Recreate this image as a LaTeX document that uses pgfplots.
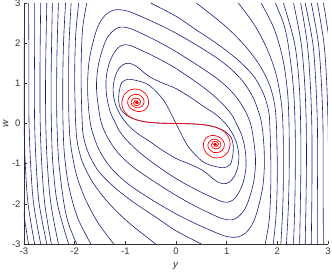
\documentclass[border=0pt]{standalone}
\usepackage{fontspec}
\setmainfont{Liberation Sans}
\usepackage{pgfplots}
\usepackage{pgfplotstable}
\pgfplotsset{compat=1.18}
\definecolor{cblue}{RGB}{22,32,122}
\definecolor{axgray}{RGB}{50,50,50}
% ---- open contours: left branches (right branches are the point reflection)
\pgfplotstableread{
y w
-1.76 3
-1.84 2.4
-1.87 1.6
-1.87 0.8
-1.85 0
-1.83 -0.3
-1.74 -0.7
-1.55 -1.15
-1.25 -1.55
-0.85 -1.95
-0.4 -2.33
0 -2.67
0.5 -3.0
}\Ltw
\pgfplotstableread{
y w
-1.92 3
-1.98 2.2
-2.0 1.2
-1.99 0.4
-1.98 0
-1.95 -0.45
-1.85 -0.95
-1.65 -1.45
-1.35 -1.95
-0.95 -2.45
-0.4 -3.0
}\Lel
\pgfplotstableread{
y w
-2.07 3
-2.11 2
-2.12 1
-2.11 0
-2.07 -0.6
-1.97 -1.25
-1.8 -1.85
-1.55 -2.45
-1.23 -3.0
}\Lte
\pgfplotstableread{
y w
-2.18 3
-2.22 2
-2.235 1
-2.23 0
-2.2 -0.8
-2.11 -1.6
-1.94 -2.35
-1.68 -3.0
}\Lni
\pgfplotstableread{
y w
-2.32 3
-2.345 2
-2.355 1
-2.35 0
-2.31 -1
-2.21 -2
-2.12 -2.5
-1.96 -3
}\Lei
\pgfplotstableread{
y w
-2.44 3
-2.455 2
-2.465 1
-2.46 0
-2.43 -1
-2.34 -2
-2.12 -3
}\Lse
\pgfplotstableread{
y w
-2.55 3
-2.565 2
-2.575 1
-2.57 0
-2.54 -1
-2.47 -2
-2.32 -3
}\Lsi
\pgfplotstableread{
y w
-2.67 3
-2.68 2
-2.685 1
-2.68 0
-2.65 -1
-2.59 -2
-2.46 -3
}\Lfi
\pgfplotstableread{
y w
-2.79 3
-2.79 2
-2.795 1
-2.79 0
-2.76 -1
-2.7 -2
-2.55 -3
}\Lfo
\pgfplotstableread{
y w
-2.91 3
-2.905 2
-2.905 1
-2.9 0
-2.87 -1
-2.81 -2
-2.67 -3
}\Lth
\pgfplotstableread{
y w
-3.02 3
-3.01 2
-3.01 1
-3.0 0
-2.975 -1
-2.92 -2
-2.79 -3
}\Ltwo
\pgfplotstableread{
y w
-3.13 3
-3.12 2
-3.115 1
-3.1 0
-3.08 -1
-3.03 -2
-2.91 -3
}\Lone
% ---- closed contours, full loops
\pgfplotstableread{
y w
0 2.25
0.5 1.88
0.95 1.5
1.3 1.08
1.52 0.65
1.64 0.25
1.69 0
1.73 -0.45
1.745 -1.0
1.71 -1.6
1.6 -2.2
1.5 -2.52
1.36 -2.74
1.2 -2.83
1.03 -2.82
0.85 -2.75
0.45 -2.53
0 -2.25
-0.5 -1.88
-0.95 -1.5
-1.3 -1.08
-1.52 -0.65
-1.64 -0.25
-1.69 0
-1.73 0.45
-1.745 1.0
-1.71 1.6
-1.6 2.2
-1.5 2.52
-1.36 2.74
-1.2 2.83
-1.03 2.82
-0.85 2.75
-0.45 2.53
0 2.25
0.5 1.88
}\Kfi
\pgfplotstableread{
y w
0 1.79
0.45 1.43
0.85 1.08
1.15 0.72
1.35 0.35
1.47 0
1.53 -0.4
1.57 -0.9
1.54 -1.4
1.45 -1.85
1.35 -2.15
1.22 -2.33
1.1 -2.4
0.95 -2.38
0.78 -2.3
0.4 -2.07
0 -1.79
-0.45 -1.43
-0.85 -1.08
-1.15 -0.72
-1.35 -0.35
-1.47 0
-1.53 0.4
-1.57 0.9
-1.54 1.4
-1.45 1.85
-1.35 2.15
-1.22 2.33
-1.1 2.4
-0.95 2.38
-0.78 2.3
-0.4 2.07
0 1.79
0.45 1.43
}\Kfo
\pgfplotstableread{
y w
0 1.37
0.4 1.03
0.72 0.72
0.97 0.42
1.12 0.18
1.19 0
1.3 -0.3
1.37 -0.7
1.38 -1.1
1.33 -1.45
1.24 -1.72
1.13 -1.9
1.02 -1.96
0.9 -1.94
0.75 -1.86
0.4 -1.65
0 -1.37
-0.4 -1.03
-0.72 -0.72
-0.97 -0.42
-1.12 -0.18
-1.19 0
-1.3 0.3
-1.37 0.7
-1.38 1.1
-1.33 1.45
-1.24 1.72
-1.13 1.9
-1.02 1.96
-0.9 1.94
-0.75 1.86
-0.4 1.65
0 1.37
0.4 1.03
}\Kth
\pgfplotstableread{
y w
0 0.87
0.3 0.64
0.55 0.42
0.78 0.23
0.96 0.02
1.1 -0.22
1.2 -0.5
1.24 -0.8
1.22 -1.08
1.15 -1.32
1.05 -1.46
0.93 -1.5
0.78 -1.42
0.53 -1.17
0.25 -1.0
0 -0.87
-0.3 -0.64
-0.55 -0.42
-0.78 -0.23
-0.96 -0.02
-1.1 0.22
-1.2 0.5
-1.24 0.8
-1.22 1.08
-1.15 1.32
-1.05 1.46
-0.93 1.5
-0.78 1.42
-0.53 1.17
-0.25 1.0
0 0.87
0.3 0.64
}\Ktw
% figure-eight through the origin
\pgfplotstableread{
y w
-0.4 0.015
-0.2 0.005
0 0
0.2 -0.005
0.4 -0.015
0.6 -0.04
0.8 -0.1
0.97 -0.2
1.09 -0.35
1.13 -0.55
1.12 -0.8
1.07 -1.02
0.95 -1.1
0.78 -1.07
0.53 -0.95
0.24 -0.57
0 0
-0.24 0.57
-0.53 0.95
-0.78 1.07
-0.95 1.1
-1.07 1.02
-1.12 0.8
-1.13 0.55
-1.09 0.35
-0.97 0.2
-0.8 0.1
-0.6 0.04
-0.4 0.015
-0.2 0.005
}\Kone
% ---- red trajectory, right half (left half is the reflection)
\pgfplotstableread{
y w
0 0
0.2 -0.005
0.4 -0.015
0.6 -0.04
0.8 -0.1
0.95 -0.2
1.04 -0.35
1.07 -0.52
1.02 -0.72
0.9 -0.84
0.74 -0.85
0.6 -0.74
0.54 -0.57
0.56 -0.42
0.64 -0.32
0.76 -0.3
0.88 -0.36
0.95 -0.48
0.94 -0.62
0.86 -0.71
0.74 -0.72
0.65 -0.63
0.63 -0.52
0.68 -0.42
0.78 -0.39
0.87 -0.46
0.88 -0.56
0.82 -0.63
0.73 -0.61
0.7 -0.53
0.73 -0.46
0.8 -0.45
0.84 -0.51
0.81 -0.57
0.76 -0.56
0.75 -0.51
0.79 -0.5
0.8 -0.53
0.77 -0.53
}\Rtraj
\pgfplotstableread{
y w
0.77 -0.52
}\Rdot
\begin{document}
\begin{tikzpicture}
\begin{axis}[
  scale only axis, width=304pt, height=241pt,
  xmin=-3, xmax=3, ymin=-3, ymax=3,
  axis x line*=bottom, axis y line*=left,
  axis line style={axgray, line width=0.5pt},
  tick align=inside, major tick length=3pt,
  tick style={axgray, line width=0.5pt},
  xtick={-3,-2,-1,0,1,2,3}, ytick={-3,-2,-1,0,1,2,3},
  tick label style={font=\fontsize{9.5}{11}\selectfont, text=axgray},
  /pgf/number format/assume math mode=true,
  xlabel={\textit{y}}, ylabel={\textit{w}},
  label style={font=\fontsize{10}{12}\selectfont, text=axgray},
  xlabel style={at={(axis description cs:0.5,-0.09)}, anchor=center},
  ylabel style={at={(axis description cs:-0.06,0.5)}, anchor=center},
  clip=true,
  bl/.style={cblue, line width=0.6pt, smooth, tension=0.55},
  rd/.style={red, line width=0.7pt, smooth, tension=0.55},
]
\addplot[bl] table[x=y,y=w] {\Lone};
\addplot[bl] table[x expr=-\thisrow{y}, y expr=-\thisrow{w}] {\Lone};
\addplot[bl] table[x=y,y=w] {\Ltwo};
\addplot[bl] table[x expr=-\thisrow{y}, y expr=-\thisrow{w}] {\Ltwo};
\addplot[bl] table[x=y,y=w] {\Lth};
\addplot[bl] table[x expr=-\thisrow{y}, y expr=-\thisrow{w}] {\Lth};
\addplot[bl] table[x=y,y=w] {\Lfo};
\addplot[bl] table[x expr=-\thisrow{y}, y expr=-\thisrow{w}] {\Lfo};
\addplot[bl] table[x=y,y=w] {\Lfi};
\addplot[bl] table[x expr=-\thisrow{y}, y expr=-\thisrow{w}] {\Lfi};
\addplot[bl] table[x=y,y=w] {\Lsi};
\addplot[bl] table[x expr=-\thisrow{y}, y expr=-\thisrow{w}] {\Lsi};
\addplot[bl] table[x=y,y=w] {\Lse};
\addplot[bl] table[x expr=-\thisrow{y}, y expr=-\thisrow{w}] {\Lse};
\addplot[bl] table[x=y,y=w] {\Lei};
\addplot[bl] table[x expr=-\thisrow{y}, y expr=-\thisrow{w}] {\Lei};
\addplot[bl] table[x=y,y=w] {\Lni};
\addplot[bl] table[x expr=-\thisrow{y}, y expr=-\thisrow{w}] {\Lni};
\addplot[bl] table[x=y,y=w] {\Lte};
\addplot[bl] table[x expr=-\thisrow{y}, y expr=-\thisrow{w}] {\Lte};
\addplot[bl] table[x=y,y=w] {\Lel};
\addplot[bl] table[x expr=-\thisrow{y}, y expr=-\thisrow{w}] {\Lel};
\addplot[bl] table[x=y,y=w] {\Ltw};
\addplot[bl] table[x expr=-\thisrow{y}, y expr=-\thisrow{w}] {\Ltw};
\addplot[bl] table[x=y,y=w] {\Kfi};
\addplot[bl] table[x=y,y=w] {\Kfo};
\addplot[bl] table[x=y,y=w] {\Kth};
\addplot[bl] table[x=y,y=w] {\Ktw};
\addplot[bl] table[x=y,y=w] {\Kone};
\addplot[rd] table[x=y,y=w] {\Rtraj};
\addplot[rd] table[x expr=-\thisrow{y}, y expr=-\thisrow{w}] {\Rtraj};
\addplot[red, only marks, mark=*, mark size=1.5pt] table[x=y,y=w] {\Rdot};
\addplot[red, only marks, mark=*, mark size=1.5pt] table[x expr=-\thisrow{y}, y expr=-\thisrow{w}] {\Rdot};
\end{axis}
\pgfresetboundingbox
\path (-24pt,-28pt) rectangle (308pt,244pt);
\end{tikzpicture}
\end{document}
